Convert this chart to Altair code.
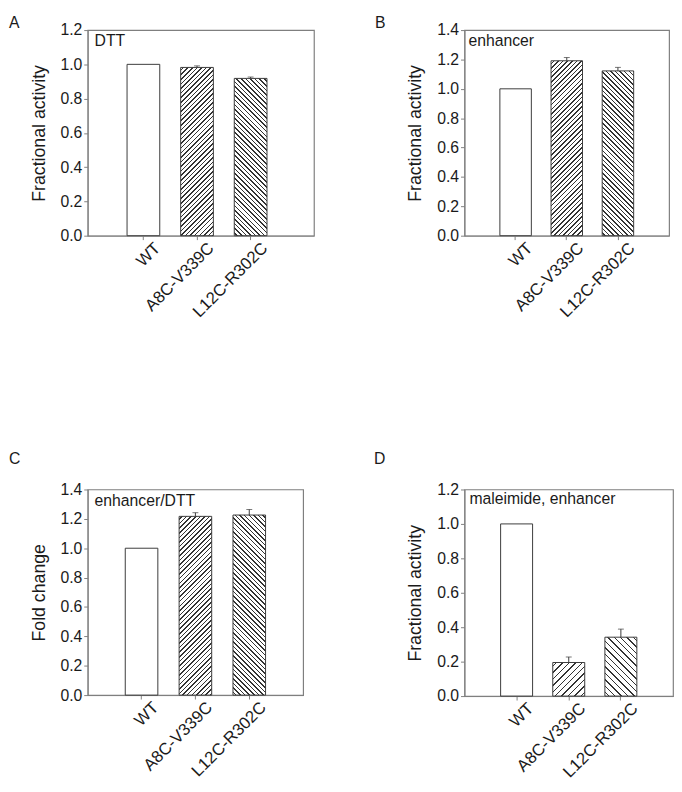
import math
import altair as alt
import pandas as pd

# ---------------- data ----------------
categories = ["WT", "A8C-V339C", "L12C-R302C"]

a_values = [1.0, 0.982, 0.918]
a_errors = [0.0, 0.009, 0.008]

b_values = [1.0, 1.191, 1.122]
b_errors = [0.0, 0.022, 0.024]

c_values = [1.0, 1.217, 1.226]
c_errors = [0.0, 0.025, 0.038]

d_values = [1.0, 0.195, 0.342]
d_errors = [0.0, 0.032, 0.047]

y_maxes = [1.2, 1.4, 1.4, 1.2]
y_titles = ["Fractional activity", "Fractional activity", "Fold change", "Fractional activity"]
insets = ["DTT", "enhancer", "enhancer/DTT", "maleimide, enhancer"]
letters = ["A", "B", "C", "D"]

# ---------------- style / layout ----------------
FONT = "Liberation Sans"
GRAY = "#7f7f7f"
DARK = "#3a3a3a"
TEXT = "#1a1a1a"

widths = [230, 208, 219, 212]
heights = [209, 209, 209, 210]
pad_inner = [0.39, 0.385, 0.395, 0.387]
pad_outer = [0.805, 0.6925, 0.6975, 0.6935]
aligns = [0.456, 0.5, 0.5, 0.5]
hatch_period = [3.3, 3.3, 3.3, 4.6]
inset_pos = [(7, 11), (4, 11), (7, 12), (5, 10)]
letter_pos = [(-80, -15), (-91, -15), (-80, -39), (-92, -39)]


def hatch(w, h, period, kind, lw=1.1, color="#333333"):
    k = (w + h) / (w * w + h * h)
    span = (w + h) / math.sqrt(2)
    step = period / span
    t = lw / span
    stops = [{"offset": 0, "color": "white"}]
    o = step / 2
    while o < 1:
        a = round(o, 6)
        b = round(min(o + t, 1), 6)
        stops += [
            {"offset": a, "color": "white"},
            {"offset": a, "color": color},
            {"offset": b, "color": color},
            {"offset": b, "color": "white"},
        ]
        o += step
    stops.append({"offset": 1, "color": "white"})
    if kind == "/":
        return {"gradient": "linear", "x1": 0, "y1": 0,
                "x2": round(w * k, 6), "y2": round(h * k, 6), "stops": stops}
    return {"gradient": "linear", "x1": 0, "y1": 1,
            "x2": round(w * k, 6), "y2": round(1 - h * k, 6), "stops": stops}


def panel(i, values, errors):
    W, H = widths[i], heights[i]
    ymax = y_maxes[i]
    df = pd.DataFrame({
        "cat": categories,
        "val": values,
        "err": errors,
        "upper": [v + e for v, e in zip(values, errors)],
    })
    xscale = alt.Scale(domain=categories, paddingInner=pad_inner[i],
                       paddingOuter=pad_outer[i], align=aligns[i])
    yscale = alt.Scale(domain=[0, ymax], nice=False, zero=True)
    xaxis = alt.Axis(title=None, labelAngle=-45, labelOffset=9, labelPadding=0,
                     labelFontSize=17, tickSize=4)
    nt = int(round(ymax / 0.2))
    yaxis = alt.Axis(title=y_titles[i], values=[round(0.2 * j, 1) for j in range(nt + 1)],
                     format=".1f", labelPadding=2, titlePadding=12, tickSize=4)
    x = alt.X("cat:N", sort=categories, scale=xscale, axis=xaxis)
    base = alt.Chart(df)

    layers = [
        base.transform_filter(alt.datum.cat == categories[0])
        .mark_bar(fill="white", stroke=DARK, strokeWidth=1)
        .encode(x=x, y=alt.Y("val:Q", scale=yscale, axis=yaxis))
    ]

    step = W / (3 - pad_inner[i] + 2 * pad_outer[i])
    bw = step * (1 - pad_inner[i])
    for j, kind in [(1, "/"), (2, "\\")]:
        h = values[j] / ymax * H
        grad = hatch(bw, h, hatch_period[i], kind)
        layers.append(
            base.transform_filter(alt.datum.cat == categories[j])
            .mark_bar(fill=grad, stroke=DARK, strokeWidth=1)
            .encode(x=x, y=alt.Y("val:Q", scale=yscale, axis=yaxis))
        )

    errs = base.transform_filter(alt.datum.err > 0)
    layers.append(
        errs.mark_rule(color=DARK, strokeWidth=1).encode(
            x=x, y=alt.Y("val:Q", scale=yscale, axis=yaxis), y2="upper:Q")
    )
    layers.append(
        errs.mark_tick(color=DARK, size=6, thickness=1).encode(
            x=x, y=alt.Y("upper:Q", scale=yscale, axis=yaxis))
    )

    ix, iy = inset_pos[i]
    layers.append(
        alt.Chart(pd.DataFrame({"t": [insets[i]]}))
        .mark_text(align="left", baseline="middle", font=FONT, fontSize=16, color=TEXT)
        .encode(x=alt.value(ix), y=alt.value(iy), text="t:N")
    )
    lx, ly = letter_pos[i]
    layers.append(
        alt.Chart(pd.DataFrame({"t": [letters[i]]}))
        .mark_text(align="left", baseline="top", font=FONT, fontSize=16, color=TEXT)
        .encode(x=alt.value(lx), y=alt.value(ly), text="t:N")
    )
    return alt.layer(*layers).properties(width=W, height=H)


pA = panel(0, a_values, a_errors)
pB = panel(1, b_values, b_errors)
pC = panel(2, c_values, c_errors)
pD = panel(3, d_values, d_errors)

chart = (
    alt.concat(pA, pB, pC, pD, columns=2, spacing={"row": 258, "column": 153},
               bounds="flush", padding=0)
    .configure_view(stroke=GRAY, strokeWidth=1.2)
    .configure_axis(
        domainColor=GRAY, tickColor=GRAY, grid=False,
        labelFont=FONT, labelFontSize=16, labelColor=TEXT,
        titleFont=FONT, titleFontSize=18, titleFontWeight="normal", titleColor=TEXT,
    )
)

chart.save("out.html", embed_options={"renderer": "svg", "actions": False})
